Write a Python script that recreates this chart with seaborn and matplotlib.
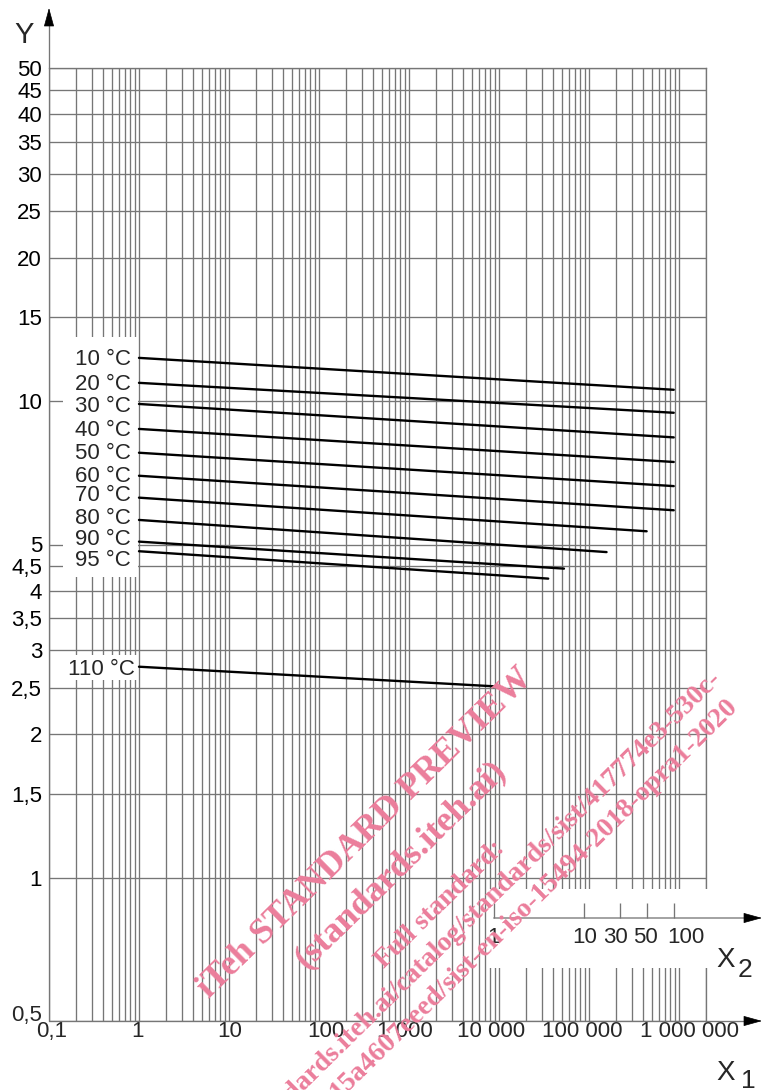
import numpy as np
import pandas as pd
import seaborn as sns
import matplotlib.pyplot as plt
from matplotlib.patches import Rectangle
from matplotlib.ticker import LogLocator, NullLocator, NullFormatter
from matplotlib.transforms import blended_transform_factory

# regression lines: X1 = time (h), Y = stress
temps = ["10 °C", "20 °C", "30 °C", "40 °C", "50 °C", "60 °C",
         "70 °C", "80 °C", "90 °C", "95 °C", "110 °C"]
t_start = [1, 1, 1, 1, 1, 1, 1, 1, 1, 1, 1]
t_end = [876000, 876000, 876000, 876000, 876000, 876000,
         438000, 157000, 52800, 35300, 8760]
y_start = [12.32, 10.92, 9.86, 8.74, 7.79, 6.97, 6.27, 5.63, 5.07, 4.84, 2.77]
y_end = [10.56, 9.45, 8.39, 7.45, 6.63, 5.90, 5.33, 4.82, 4.45, 4.24, 2.52]
# where the temperature labels sit (Y value)
label_y = [12.38, 10.95, 9.87, 8.80, 7.86, 7.04, 6.40, 5.74, 5.19, 4.68, 2.77]

y_ticks = [0.5, 1, 1.5, 2, 2.5, 3, 3.5, 4, 4.5, 5, 10, 15, 20, 25, 30, 35, 40, 45, 50]
y_labels = ["0,5", "1", "1,5", "2", "2,5", "3", "3,5", "4", "4,5", "5",
            "10", "15", "20", "25", "30", "35", "40", "45", "50"]
x1_ticks = [0.1, 1, 10, 100, 1000, 10000, 100000, 1000000]
x1_labels = ["0,1", "1", "10", "100", "1 000", "10 000", "100 000", "1 000 000"]
# X2 = time in years, ticks placed on the X1 (hours) scale
x2_ticks = [8760, 87600, 219000, 438000, 876000]
x2_labels = ["1", "10", "30", "50", "100"]

df = pd.DataFrame({"temp": temps + temps,
                   "time": t_start + t_end,
                   "stress": y_start + y_end})

sns.set_theme(style="white")
plt.rcParams["font.family"] = ["Liberation Sans", "DejaVu Sans"]

W, H = 762, 1090
gray = "#767676"
glw = 0.95
fs = 16

def fx(x):
    return x / W

def fy(y):
    return 1 - y / H

fig = plt.figure(figsize=(W / 100, H / 100), dpi=100)
ax = fig.add_axes([fx(49), fy(1021), (706 - 49) / W, (1021 - 68) / H])
ax.set_xscale("log")
ax.set_yscale("log")

sns.lineplot(data=df, x="time", y="stress", units="temp", estimator=None,
             sort=False, color="black", lw=1.7, legend=False, ax=ax, zorder=2)
ax.set_xlabel("")
ax.set_ylabel("")

ax.set_xticks(x1_ticks, [""] * len(x1_ticks))
ax.xaxis.set_minor_locator(LogLocator(base=10, subs=np.arange(2, 10), numticks=60))
ax.xaxis.set_minor_formatter(NullFormatter())
ax.set_yticks(y_ticks, [""] + y_labels[1:])
ax.yaxis.set_minor_locator(NullLocator())
ax.tick_params(which="both", length=0, labelsize=fs, colors="black")
ax.tick_params(axis="y", pad=5)
ax.grid(which="both", axis="x", color=gray, lw=glw)
ax.grid(which="major", axis="y", color=gray, lw=glw)
ax.set_axisbelow(True)
for side in ["left", "bottom"]:
    ax.spines[side].set_visible(False)
for side in ["top", "right"]:
    ax.spines[side].set_color(gray)
    ax.spines[side].set_linewidth(glw)

# X1 tick labels, nudged sideways as in the drawing
x1_dx = [3, -1, 1, 7, -4, -8, -7, 11]
for xt, lab, dx in zip(x1_ticks, x1_labels, x1_dx):
    ax.annotate(lab, xy=(xt, 0.5), xytext=(dx, -16), textcoords="offset pixels",
                ha="center", va="baseline", fontsize=fs, annotation_clip=False)
ax.annotate(y_labels[0], xy=(0.1, 0.5), xytext=(-7, 8), textcoords="offset pixels",
            ha="right", va="center_baseline", fontsize=fs, annotation_clip=False)

# white boxes behind the temperature labels
for top, bottom in [(337, 577), (655, 680)]:
    ax.add_patch(Rectangle((fx(63), fy(bottom)), (138 - 63) / W, (bottom - top) / H,
                           transform=fig.transFigure, fc="white", ec="none",
                           zorder=1.5, clip_on=False))
label_dx = [-8] * 10 + [-4]
for lab, t0, ly, dx in zip(temps, t_start, label_y, label_dx):
    ax.annotate(lab, xy=(t0, ly), xytext=(dx, 0), textcoords="offset pixels",
                ha="right", va="center_baseline", fontsize=fs, zorder=3)

# white box holding the X2 axis
ax.add_patch(Rectangle((fx(488), fy(968)), (762 - 488) / W, (968 - 889) / H,
                       transform=fig.transFigure, fc="white", ec="none",
                       zorder=2.6, clip_on=False))

blend = blended_transform_factory(ax.transData, fig.transFigure)
head = dict(arrowstyle="-|>,head_length=1.2,head_width=0.33", fc="black", ec="black",
            lw=0.5, shrinkA=0, shrinkB=0, mutation_scale=10)

ax.annotate("", xy=(fx(750), fy(918)), xycoords="figure fraction",
            xytext=(x2_ticks[0], fy(918)), textcoords=blend,
            arrowprops=dict(arrowstyle="-", color=gray, lw=glw, shrinkA=0, shrinkB=0),
            annotation_clip=False, zorder=3)
ax.vlines(x2_ticks, fy(903), fy(918), transform=blend, colors=gray, lw=glw,
          clip_on=False, zorder=3)
x2_dx = [0, 1, -4, -1, 12]
for xt, lab, dx in zip(x2_ticks, x2_labels, x2_dx):
    ax.annotate(lab, xy=(xt, fy(943)), xycoords=blend, xytext=(dx, 0),
                textcoords="offset pixels", ha="center", va="baseline",
                fontsize=fs, annotation_clip=False, zorder=3)

# axis arrows
ax.plot([fx(49), fx(49)], [fy(1021), fy(20)], transform=fig.transFigure,
        color=gray, lw=glw, clip_on=False, zorder=3)
ax.plot([fx(49), fx(750)], [fy(1021), fy(1021)], transform=fig.transFigure,
        color=gray, lw=glw, clip_on=False, zorder=3)
for tip, base in [((49, 8), (49, 25)), ((762, 1021), (745, 1021)), ((762, 918), (745, 918))]:
    ax.annotate("", xy=(fx(tip[0]), fy(tip[1])), xycoords="figure fraction",
                xytext=(fx(base[0]), fy(base[1])), textcoords="figure fraction",
                arrowprops=head, annotation_clip=False, zorder=3)

ax.text(fx(24), fy(43), "Y", transform=fig.transFigure, ha="center", va="baseline",
        fontsize=21, zorder=3)
ax.text(fx(716), fy(967), "X", transform=fig.transFigure, ha="left", va="baseline",
        fontsize=20, zorder=3)
ax.text(fx(738), fy(977), "2", transform=fig.transFigure, ha="left", va="baseline",
        fontsize=19, zorder=3)
ax.text(fx(716), fy(1080), "X", transform=fig.transFigure, ha="left", va="baseline",
        fontsize=20, zorder=3)
ax.text(fx(741), fy(1088), "1", transform=fig.transFigure, ha="left", va="baseline",
        fontsize=19, zorder=3)

# watermark
pink = "#eb7d9b"
wm = dict(transform=fig.transFigure, rotation=44.5, rotation_mode="anchor",
          fontfamily="Liberation Serif", fontweight="bold", color=pink,
          zorder=10, clip_on=False)
ax.text(fx(366), fy(833), "iTeh STANDARD PREVIEW", ha="center", va="center",
        fontsize=26, **wm)
ax.text(fx(401), fy(865), "(standards.iteh.ai)", ha="center", va="center",
        fontsize=26, **wm)
ax.text(fx(440), fy(905), "Full standard:", ha="center", va="center",
        fontsize=20, **wm)
ax.text(fx(717), fy(675), "https://standards.iteh.ai/catalog/standards/sist/417774e3-530c-",
        ha="right", va="center", fontsize=20, **wm)
ax.text(fx(734), fy(702), "15a4607eeed/sist-en-iso-15494-2018-opra1-2020",
        ha="right", va="center", fontsize=20, **wm)

ax.set_xlim(0.1, 2e6)
ax.set_ylim(0.5, 50)

fig.savefig("out.png", dpi=100)
